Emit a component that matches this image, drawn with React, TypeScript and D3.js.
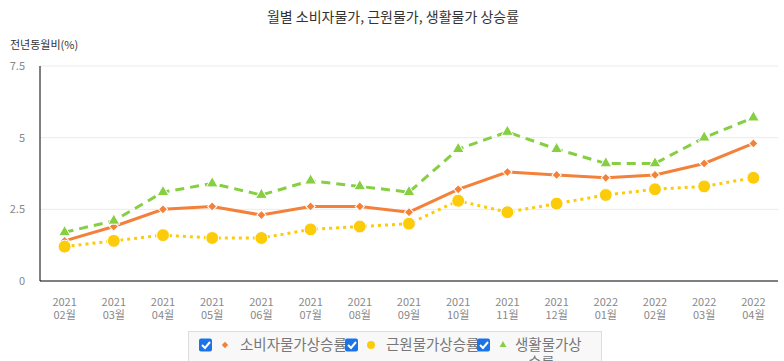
import React, { useEffect, useRef } from "react";
import * as d3 from "d3";

// 월별 데이터 (전년동월비, %)
const months = [
  "2021 02월", "2021 03월", "2021 04월", "2021 05월", "2021 06월",
  "2021 07월", "2021 08월", "2021 09월", "2021 10월", "2021 11월",
  "2021 12월", "2022 01월", "2022 02월", "2022 03월", "2022 04월",
];
const cpi = [1.4, 1.9, 2.5, 2.6, 2.3, 2.6, 2.6, 2.4, 3.2, 3.8, 3.7, 3.6, 3.7, 4.1, 4.8];
const core = [1.2, 1.4, 1.6, 1.5, 1.5, 1.8, 1.9, 2.0, 2.8, 2.4, 2.7, 3.0, 3.2, 3.3, 3.6];
const living = [1.7, 2.1, 3.1, 3.4, 3.0, 3.5, 3.3, 3.1, 4.6, 5.2, 4.6, 4.1, 4.1, 5.0, 5.7];
const yTicks = [0, 2.5, 5, 7.5];

const seriesNames = ["소비자물가상승률", "근원물가상승률", "생활물가상승률"];
const colors = ["#f3813a", "#fccb0a", "#86cf43"];

const FONT = "'Noto Sans CJK KR', 'Noto Sans', sans-serif";

const App = () => {
  const svgRef = useRef<SVGSVGElement>(null);

  useEffect(() => {
    const svg = d3.select(svgRef.current);
    svg.selectAll("*").remove();

    const width = 784;
    const height = 361;
    const margin = { top: 66, right: 6, bottom: 80, left: 40 };

    svg.attr("width", width).attr("height", height).style("font-family", FONT);

    const x = d3
      .scaleBand()
      .domain(months)
      .range([margin.left, width - margin.right]);
    const y = d3
      .scaleLinear()
      .domain([0, 7.5])
      .range([height - margin.bottom, margin.top]);
    const cx = (m) => (x(m) ?? 0) + x.bandwidth() / 2;

    // 제목
    svg
      .append("text")
      .attr("x", 393)
      .attr("y", 22)
      .attr("text-anchor", "middle")
      .attr("fill", "#333")
      .style("font-size", "14px")
      .text("월별 소비자물가, 근원물가, 생활물가 상승률");

    svg
      .append("text")
      .attr("x", 10)
      .attr("y", 49)
      .attr("fill", "#333")
      .style("font-size", "11px")
      .text("전년동월비(%)");

    // 그리드
    svg
      .append("g")
      .selectAll("line")
      .data(yTicks.filter((t) => t > 0))
      .join("line")
      .attr("x1", margin.left)
      .attr("x2", width - margin.right)
      .attr("y1", (d) => y(d))
      .attr("y2", (d) => y(d))
      .attr("stroke", "#ebebeb");

    // y축 라벨
    svg
      .append("g")
      .selectAll("text")
      .data(yTicks)
      .join("text")
      .attr("x", 25)
      .attr("y", (d) => y(d) + 4)
      .attr("text-anchor", "end")
      .attr("fill", "#888")
      .style("font-size", "11px")
      .text((d) => String(d));

    // 축선
    svg
      .append("line")
      .attr("x1", margin.left)
      .attr("x2", margin.left)
      .attr("y1", margin.top)
      .attr("y2", y(0))
      .attr("stroke", "#000");
    svg
      .append("line")
      .attr("x1", margin.left)
      .attr("x2", width - margin.right)
      .attr("y1", y(0))
      .attr("y2", y(0))
      .attr("stroke", "#000");

    // x축 라벨 (두 줄)
    const xl = svg
      .append("g")
      .selectAll("text")
      .data(months)
      .join("text")
      .attr("text-anchor", "middle")
      .attr("fill", "#888")
      .style("font-size", "11px");
    xl.append("tspan")
      .attr("x", (d) => cx(d))
      .attr("y", 306)
      .text((d) => d.split(" ")[0]);
    xl.append("tspan")
      .attr("x", (d) => cx(d))
      .attr("y", 319)
      .text((d) => d.split(" ")[1]);

    const line = d3
      .line<number>()
      .x((_, i) => cx(months[i]))
      .y((d) => y(d));

    const all = [cpi, core, living];
    const dashes = ["none", "3,4", "9,6"];

    all.forEach((vals, k) => {
      svg
        .append("path")
        .datum(vals)
        .attr("d", line)
        .attr("fill", "none")
        .attr("stroke", colors[k])
        .attr("stroke-width", 3)
        .attr("stroke-dasharray", dashes[k]);
    });

    // 마름모는 정사각형을 45도 회전
    const symbols = [d3.symbolSquare, d3.symbolCircle, d3.symbolTriangle];
    const rot = [45, 0, 0];
    const sizes = [42, 130, 60];
    all.forEach((vals, k) => {
      svg
        .append("g")
        .selectAll("path")
        .data(vals)
        .join("path")
        .attr("transform", (d, i) => `translate(${cx(months[i])},${y(d)}) rotate(${rot[k]})`)
        .attr("d", d3.symbol().type(symbols[k]).size(sizes[k]))
        .attr("fill", colors[k])
        .attr("stroke", "#fff")
        .attr("stroke-width", 1);
    });

    // 범례
    const lg = svg.append("g");
    lg.append("rect")
      .attr("x", 188.5)
      .attr("y", 331.5)
      .attr("width", 413)
      .attr("height", 40)
      .attr("fill", "#f8f8f8")
      .attr("stroke", "#ddd");

    const items = [
      { box: 199, label: seriesNames[0] },
      { box: 345, label: seriesNames[1] },
      { box: 477, label: seriesNames[2] },
    ];
    const legendText = lg.append("g");
    const legendBoxes = lg.append("g");
    items.forEach((it, k) => {
      legendText
        .append("path")
        .attr("transform", `translate(${it.box + 26},345) rotate(${rot[k]})`)
        .attr("d", d3.symbol().type(symbols[k]).size(k === 1 ? 50 : 20))
        .attr("fill", colors[k]);
      if (k < 2) {
        legendText
          .append("text")
          .attr("x", it.box + 41)
          .attr("y", 350)
          .attr("fill", "#777")
          .style("font-size", "14.5px")
          .text(it.label);
      } else {
        legendText
          .append("text")
          .attr("x", it.box + 38)
          .attr("y", 350)
          .attr("fill", "#777")
          .style("font-size", "14.5px")
          .text(it.label.slice(0, 5));
        legendText
          .append("text")
          .attr("x", it.box + 51)
          .attr("y", 368)
          .attr("fill", "#777")
          .style("font-size", "14.5px")
          .text(it.label.slice(5));
      }
      legendBoxes
        .append("rect")
        .attr("x", it.box)
        .attr("y", 338.5)
        .attr("width", 13)
        .attr("height", 13)
        .attr("rx", 2)
        .attr("fill", "#1a73e8");
      legendBoxes
        .append("path")
        .attr("d", `M${it.box + 3},${345} l3,3 l5,-6`)
        .attr("fill", "none")
        .attr("stroke", "#fff")
        .attr("stroke-width", 2);
    });
  }, []);

  return (
    <div style={{ position: "absolute", left: 0, top: 0, width: 784, height: 361, overflow: "hidden" }}>
      <svg ref={svgRef}></svg>
    </div>
  );
};

export default App;
